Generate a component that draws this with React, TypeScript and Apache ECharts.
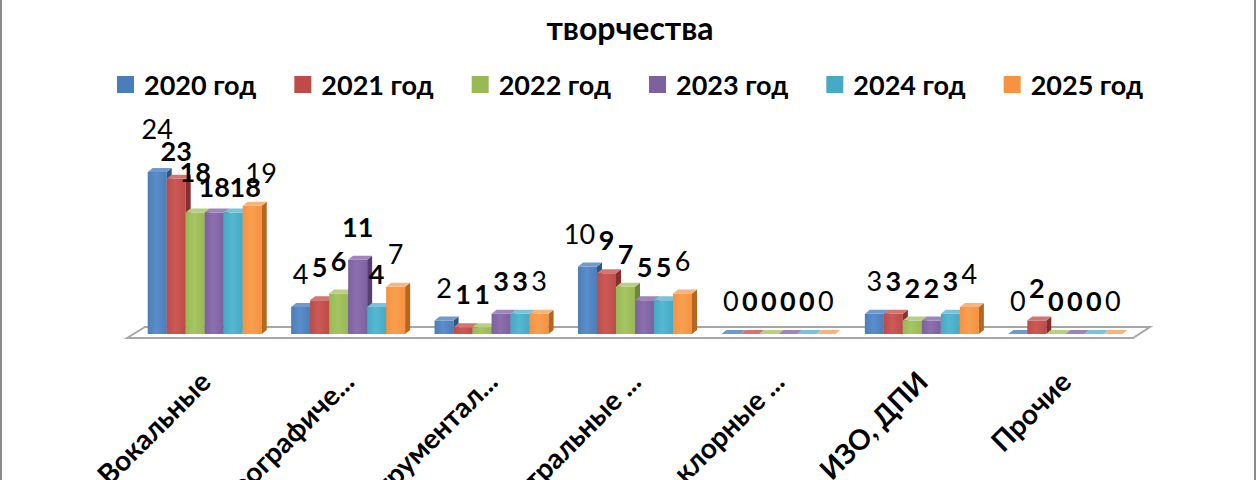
import React, { useEffect, useRef } from "react";
import * as echarts from "echarts";

// ---- data ----
const categories = [
  "Вокальные",
  "Хореографиче...",
  "Инструментал...",
  "Театральные ...",
  "Фольклорные ...",
  "ИЗО, ДПИ",
  "Прочие",
];
const years = ["2020 год", "2021 год", "2022 год", "2023 год", "2024 год", "2025 год"];
const v2020 = [24, 4, 2, 10, 0, 3, 0];
const v2021 = [23, 5, 1, 9, 0, 3, 2];
const v2022 = [18, 6, 1, 7, 0, 2, 0];
const v2023 = [18, 11, 3, 5, 0, 2, 0];
const v2024 = [18, 4, 3, 5, 0, 3, 0];
const v2025 = [19, 7, 3, 6, 0, 4, 0];
const titleText = "творчества";

// ---- styles ----
const palette = [
  { front: "#4A7EBB", light: "#5A8DCA", side: "#2F5487", top: "#7099CC" },
  { front: "#BE4B48", light: "#CB5A57", side: "#8A2E2C", top: "#D27573" },
  { front: "#98B954", light: "#A6C563", side: "#6C8538", top: "#B7D082" },
  { front: "#7D60A0", light: "#8B6FAE", side: "#573F73", top: "#9E86BB" },
  { front: "#46AAC5", light: "#55B7D1", side: "#2C7B90", top: "#7AC4D8" },
  { front: "#F69240", light: "#F8A050", side: "#B7661F", top: "#F9B47C" },
];
const labelBold = [false, true, true, true, true, false];
// label nudges (category-series) that mimic the source's overlap avoidance
const labelNudge: Record<string, [number, number]> = {
  "0-0": [0, -10],
  "0-1": [0, 5],
  "0-2": [0, -8],
  "0-3": [0, 7],
  "0-4": [12, 7],
  "0-5": [9, 0],
  "3-0": [-8, 0],
};
const GROUP = 0.795;
const DX = 5;
const DY = -4;
const LABEL_GAP = 20;
const FONT = "Lato";

export default function App() {
  const ref = useRef<HTMLDivElement>(null);

  useEffect(() => {
    const chart = echarts.init(ref.current as HTMLDivElement, null, { renderer: "svg" });
    const seriesValues = [v2020, v2021, v2022, v2023, v2024, v2025];

    const geom = (api: any, sIdx: number) => {
      const c = api.value(0);
      const v = api.value(1);
      const base = api.coord([c, 0]);
      const top = api.coord([c, v]);
      const band = api.size([1, 0])[0];
      const bw = (band * GROUP) / 6;
      const x0 = base[0] - (band * GROUP) / 2 + sIdx * bw;
      return { c, x0, x1: x0 + bw, bw, yb: base[1], yt: top[1], v };
    };

    const floorSeries: any = {
      type: "custom",
      z: 1,
      silent: true,
      data: [[0, 0]],
      renderItem: (params: any, api: any) => {
        const band = api.size([1, 0])[0];
        const a = api.coord([0, 0]);
        const b = api.coord([categories.length - 1, 0]);
        const left = a[0] - band / 2;
        const right = b[0] + band / 2;
        const y0 = a[1];
        return {
          type: "polygon",
          shape: {
            points: [
              [left - 6, y0 + 4],
              [left + 12, y0 - 7],
              [right + 13, y0 - 7],
              [right - 4, y0 + 4],
            ],
          },
          style: { fill: "#ffffff", stroke: "#a6a6a6", lineWidth: 2 },
        };
      },
    };

    const barSeries: any[] = seriesValues.map((vals, sIdx) => ({
      type: "custom",
      name: years[sIdx],
      z: 2,
      itemStyle: { color: palette[sIdx].front },
      data: vals.map((v, i) => [i, v]),
      renderItem: (params: any, api: any) => {
        const g = geom(api, sIdx);
        const p = palette[sIdx];
        const children: any[] = [];
        if (g.yb - g.yt > 0.5) {
          children.push({
            type: "rect",
            shape: { x: g.x0, y: g.yt, width: g.bw, height: g.yb - g.yt },
            style: {
              fill: new echarts.graphic.LinearGradient(0, 0, 1, 0, [
                { offset: 0, color: p.front },
                { offset: 0.45, color: p.light },
                { offset: 1, color: p.front },
              ]),
            },
          });
          children.push({
            type: "polygon",
            shape: {
              points: [
                [g.x1, g.yt],
                [g.x1 + DX, g.yt + DY],
                [g.x1 + DX, g.yb + DY],
                [g.x1, g.yb],
              ],
            },
            style: { fill: p.side },
          });
        }
        children.push({
          type: "polygon",
          shape: {
            points: [
              [g.x0, g.yt],
              [g.x0 + DX, g.yt + DY],
              [g.x1 + DX, g.yt + DY],
              [g.x1, g.yt],
            ],
          },
          style: { fill: p.top },
        });
        return { type: "group", children };
      },
    }));

    const labelSeries: any[] = seriesValues.map((vals, sIdx) => ({
      type: "custom",
      z: 5,
      silent: true,
      data: vals.map((v, i) => [i, v]),
      renderItem: (params: any, api: any) => {
        const g = geom(api, sIdx);
        const nudge = labelNudge[g.c + "-" + sIdx] || [0, 0];
        return {
          type: "text",
          x: g.x0 + g.bw / 2 + nudge[0],
          y: g.yt - LABEL_GAP + nudge[1],
          style: {
            text: String(g.v),
            textAlign: "center",
            align: "center",
            textVerticalAlign: "bottom",
            verticalAlign: "bottom",
            fontFamily: FONT,
            fontSize: 27,
            fontWeight: labelBold[sIdx] ? "bold" : "normal",
            fill: "#000000",
          },
        };
      },
    }));

    chart.setOption({
      animation: false,
      backgroundColor: "#ffffff",
      title: {
        text: titleText,
        left: "center",
        top: 6,
        textStyle: { fontFamily: FONT, fontWeight: "bold", fontSize: 32, color: "#000" },
      },
      legend: {
        data: years,
        top: 66,
        left: 112,
        icon: "rect",
        itemWidth: 17,
        itemHeight: 17,
        itemGap: 38,
        textStyle: {
          fontFamily: FONT,
          fontWeight: "bold",
          fontSize: 27,
          color: "#000",
          padding: [0, 0, 0, 5],
        },
      },
      grid: {
        left: 133,
        right: 123,
        top: 172,
        bottom: 146,
        containLabel: false,
        outerBoundsMode: "none",
      },
      xAxis: {
        type: "category",
        data: categories,
        axisLine: { show: false },
        axisTick: { show: false },
        axisLabel: {
          rotate: 45,
          interval: 0,
          margin: 42,
          fontFamily: FONT,
          fontWeight: "bold",
          fontSize: 28,
          color: "#000",
        },
      },
      yAxis: { type: "value", min: 0, max: 24, show: false, splitLine: { show: false } },
      graphic: [
        {
          type: "rect",
          silent: true,
          z: 100,
          shape: { x: 1, y: -10, width: 1254, height: 500 },
          style: { fill: "none", stroke: "#8a8a8a", lineWidth: 2 },
        },
      ],
      series: [floorSeries, ...barSeries, ...labelSeries],
    });

    return () => chart.dispose();
  }, []);

  return (
    <div
      ref={ref}
      style={{ position: "fixed", left: 0, top: 0, width: 1260, height: 480 }}
    />
  );
}
